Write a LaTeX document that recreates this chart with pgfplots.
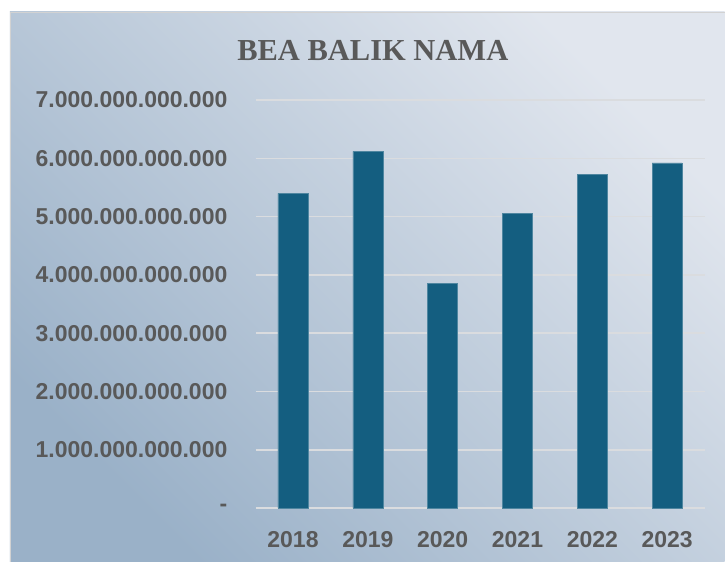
\documentclass[border=0pt]{standalone}
\usepackage{pgfplots}
\pgfplotsset{compat=1.18}
\usepackage{fontspec}
\setmainfont{Liberation Sans}
\newfontfamily\titlefont{Liberation Serif}
\definecolor{barblue}{HTML}{145E80}
\definecolor{txtgray}{HTML}{595959}
\definecolor{gridgray}{HTML}{DADCDF}
\definecolor{bgdark}{HTML}{9AB1C8}
\definecolor{bglight}{HTML}{E1E6EE}

\begin{document}
\begin{tikzpicture}
  % background panel
  \fill[white] (0pt,0pt) rectangle (725pt,562pt);
  \shade[shading=axis, bottom color=bgdark, top color=bglight, shading angle=-45]
    (10pt,0pt) rectangle (725pt,550pt);
  \draw[gray!35, line width=0.8pt] (10pt,0pt) -- (10pt,550pt) -- (725pt,550pt);

  \node[anchor=base, text=txtgray, font=\titlefont\bfseries\fontsize{30.5}{36}\selectfont]
    at (373pt,501pt) {BEA BALIK NAMA};

  \begin{axis}[
      at={(255.7pt,53.5pt)},
      anchor=south west,
      scale only axis,
      width=449.3pt,
      height=408.5pt,
      ybar,
      bar width=30pt,
      xmin=-0.5, xmax=5.5,
      ymin=0, ymax=7e12,
      scaled y ticks=false,
      xtick=data,
      xticklabels={2018,2019,2020,2021,2022,2023},
      ytick={0,1e12,2e12,3e12,4e12,5e12,6e12,7e12},
      yticklabels={-,1.000.000.000.000,2.000.000.000.000,3.000.000.000.000,
        4.000.000.000.000,5.000.000.000.000,6.000.000.000.000,7.000.000.000.000},
      ymajorgrids,
      grid style={gridgray, line width=1.5pt},
      axis line style={draw=none},
      major tick length=0pt,
      tick label style={text=txtgray, font=\bfseries\fontsize{23}{27}\selectfont, inner sep=0pt},
      yticklabel style={anchor=east, xshift=-28pt},
      xticklabel style={anchor=north, yshift=-23pt},
      clip=false,
    ]
    \addplot[fill=barblue, draw=barblue!75!white, line width=0.5pt] coordinates {
      (0,5.40e12) (1,6.12e12) (2,3.86e12) (3,5.06e12) (4,5.73e12) (5,5.92e12)
    };
  \end{axis}
\end{tikzpicture}
\end{document}
